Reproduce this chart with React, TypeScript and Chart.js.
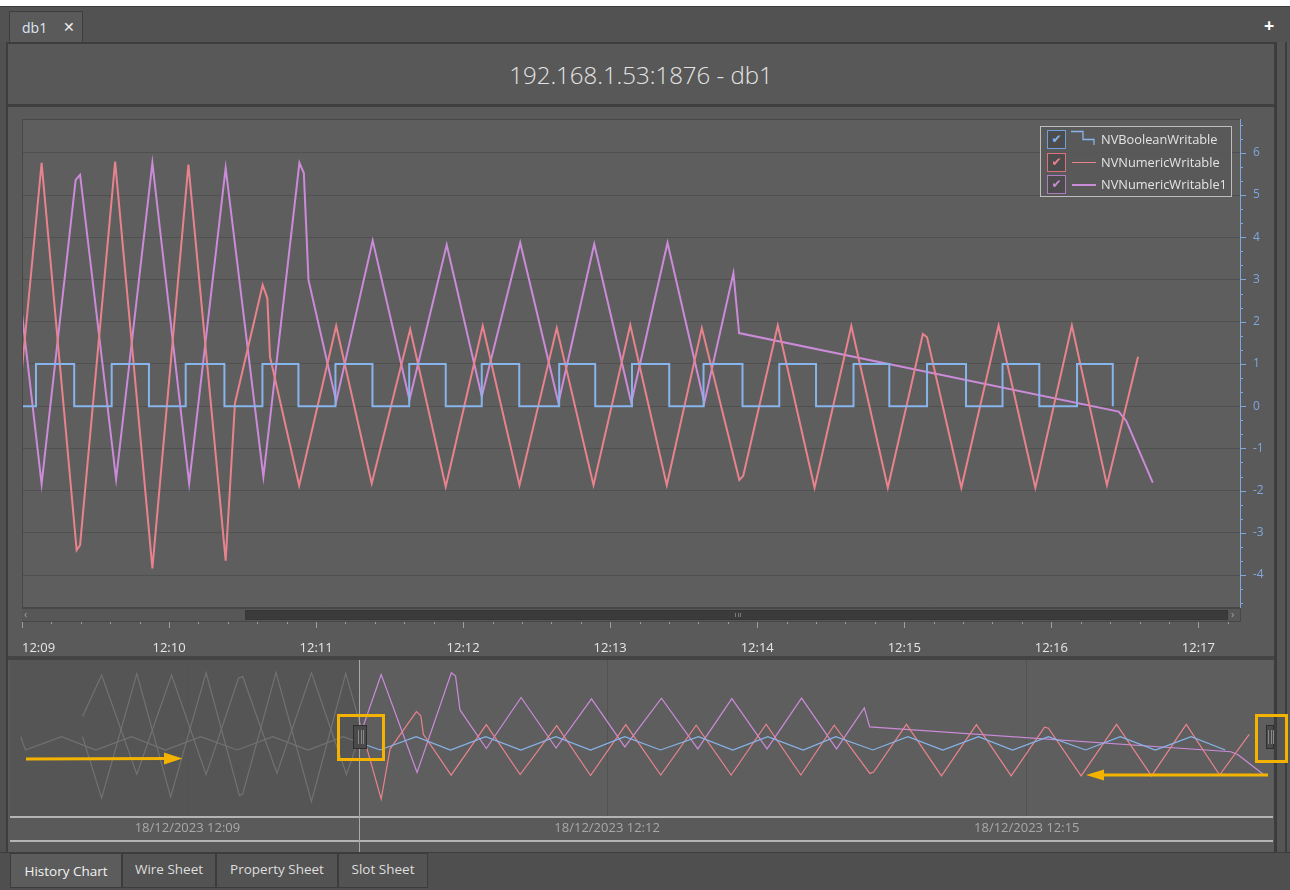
import React, { useEffect, useRef } from "react";
import { Chart, registerables } from "chart.js";
Chart.register(...registerables);

// ---------- data: time in seconds relative to 18/12/2023 12:09:00 ----------
const boolTimes = [-71.5, -69.5, -54, -39.3, -24, -9.4, 5.7, 21.3, 36.6, 51.8, 66.8, 82.6, 98.1, 112.8, 127.9, 143.0, 158.0, 172.9, 187.6, 202.9, 219.2, 233.9, 248.9, 264.1, 278.1, 294.0, 309.0, 324.0, 339.3, 353.9, 369.3, 385.2, 400.1, 415.1, 430.5, 445.1];
const boolValues = [1, 0, 1, 0, 1, 0, 1, 0, 1, 0, 1, 0, 1, 0, 1, 0, 1, 0, 1, 0, 1, 0, 1, 0, 1, 0, 1, 0, 1, 0, 1, 0, 1, 0, 1, 0];

const numTimes = [-45, -36.8, -21.7, -7.2, 8.0, 22.3, 23.7, 38.0, 53.2, 67.9, 83.1, 86.9, 98.2, 100.1, 101.2, 113.1, 128.2, 142.7, 158.4, 172.9, 188.0, 203.0, 218.2, 233.2, 248.2, 263.1, 277.4, 292.7, 294.3, 308.4, 323.4, 338.4, 353.3, 367.6, 369.3, 383.3, 398.5, 413.5, 428.4, 442.7, 455.4];
const numValues = [1.0, -3.6, 5.7, -3.5, 5.76, -3.41, -3.29, 5.79, -3.84, 5.72, -3.66, 0.07, 2.87, 2.56, 1.17, -1.88, 1.9, -1.83, 1.82, -1.91, 1.9, -1.87, 1.85, -1.87, 1.92, -1.87, 1.85, -1.75, -1.65, 1.91, -1.93, 1.9, -1.93, 1.71, 1.63, -1.93, 1.91, -1.93, 1.91, -1.87, 1.17];

const num1Times = [-45, -36.8, -21.7, -6.8, 8.0, 21.9, 23.7, 38.4, 53.2, 68.2, 83.1, 98.5, 113.2, 115.0, 116.9, 128.2, 143.1, 158.1, 173.3, 187.6, 203.3, 218.9, 233.5, 248.6, 263.4, 278.4, 290.3, 292.6, 447.5, 450.6, 461.4];
const num1Values = [2.5, 5.6, -1.8, 5.6, -1.84, 5.36, 5.48, -1.73, 5.76, -1.83, 5.64, -1.67, 5.76, 5.52, 2.99, 0.11, 3.92, 0.15, 3.82, 0.23, 3.87, 0.08, 3.84, 0.08, 3.87, 0.08, 3.15, 1.73, -0.13, -0.35, -1.81];

const seriesNames = ["NVBooleanWritable", "NVNumericWritable", "NVNumericWritable1"];
const minuteLabels = ["12:09", "12:10", "12:11", "12:12", "12:13", "12:14", "12:15", "12:16", "12:17"];
const yLabels = ["-4", "-3", "-2", "-1", "0", "1", "2", "3", "4", "5", "6"];
const navLabels = ["18/12/2023 12:09", "18/12/2023 12:12", "18/12/2023 12:15"];
const navLabelTimes = [0, 180, 360];
const tabLabels = ["History Chart", "Wire Sheet", "Property Sheet", "Slot Sheet"];
const titleText = "192.168.1.53:1876 - db1";

// ---------- styles ----------
const BLUE = "#87b4ea";
const RED = "#e8838d";
const PURPLE = "#cb8bd9";
const AXIS_BLUE = "#7fa7dc";
const PLOT_BG = "#5e5e5e";
const GRID = "#505050";
const UI_FONT = "'Open Sans', 'Noto Sans', 'DejaVu Sans', sans-serif";

const pts = (xs: number[], ys: number[]) => xs.map((x, i) => ({ x, y: ys[i] }));
const isInt = (v: number) => Math.abs(v - Math.round(v)) < 1e-6;
const noPad = (s: any) => { s.paddingLeft = 0; s.paddingRight = 0; s.paddingTop = 0; s.paddingBottom = 0; };

const X_MIN = 0, X_MAX = 497, X_MINOR = 12;
const Y_MIN = -4.78, Y_MAX = 6.8;

const mainDecor = {
  id: "mainDecor",
  beforeDraw(chart: any) {
    const { ctx, chartArea: a } = chart;
    ctx.save();
    ctx.fillStyle = PLOT_BG;
    ctx.fillRect(a.left, a.top, a.right - a.left, a.bottom - a.top);
    ctx.restore();
  },
  afterDraw(chart: any) {
    const { ctx, chartArea: a, scales } = chart;
    ctx.save();
    ctx.strokeStyle = "#474747";
    ctx.lineWidth = 1;
    ctx.beginPath();
    ctx.moveTo(a.left + 0.5, a.bottom);
    ctx.lineTo(a.left + 0.5, a.top + 0.5);
    ctx.lineTo(a.right, a.top + 0.5);
    ctx.stroke();
    ctx.beginPath();
    ctx.moveTo(a.left, a.bottom - 0.5);
    ctx.lineTo(a.right, a.bottom - 0.5);
    ctx.stroke();
    // y tick marks
    const ys = scales.y;
    ctx.strokeStyle = AXIS_BLUE;
    ys.ticks.forEach((t: any) => {
      const py = Math.round(ys.getPixelForValue(t.value)) + 0.5;
      ctx.beginPath();
      ctx.moveTo(a.right, py);
      ctx.lineTo(a.right + (isInt(t.value) ? 6 : 3), py);
      ctx.stroke();
    });
    // x tick marks (below the scrollbar)
    const xs = scales.x;
    const top = a.bottom + 13;
    ctx.strokeStyle = "#9e9e9e";
    xs.ticks.forEach((t: any) => {
      const px = Math.round(xs.getPixelForValue(t.value)) + 0.5;
      const major = Math.round(t.value) % 60 === 0;
      ctx.beginPath();
      ctx.moveTo(px, top);
      ctx.lineTo(px, top + (major ? 7 : 3));
      ctx.stroke();
    });
    ctx.restore();
  },
};

const NAV_DIV = 349; // canvas px of window start
const navDecor = {
  id: "navDecor",
  beforeDraw(chart: any) {
    const { ctx, chartArea: a } = chart;
    ctx.save();
    ctx.fillStyle = PLOT_BG;
    ctx.fillRect(a.left, a.top, a.right - a.left, a.bottom - a.top);
    ctx.fillStyle = "#555555";
    ctx.fillRect(a.left, a.top, NAV_DIV, a.bottom - a.top);
    ctx.restore();
  },
  afterDraw(chart: any) {
    const { ctx, chartArea: a, width } = chart;
    ctx.save();
    ctx.fillStyle = "#b4b4b4";
    ctx.fillRect(0, a.bottom, width, 2);
    ctx.fillRect(0, a.bottom + 24, width, 2);
    ctx.restore();
  },
};

function mainConfig(): any {
  const xTicks: number[] = [];
  for (let v = X_MIN; v <= X_MAX; v += X_MINOR) xTicks.push(v);
  const yTicks: number[] = [];
  const yMinLab = Number(yLabels[0]);
  const yMaxLab = Number(yLabels[yLabels.length - 1]);
  for (let k = yMinLab * 3 - 2; k <= yMaxLab * 3 + 2; k++) yTicks.push(k / 3);
  return {
    type: "line",
    data: {
      datasets: [
        { label: seriesNames[0], data: pts(boolTimes, boolValues), borderColor: BLUE, borderWidth: 2, stepped: true, pointRadius: 0, fill: false },
        { label: seriesNames[1], data: pts(numTimes, numValues), borderColor: RED, borderWidth: 2, pointRadius: 0, fill: false, tension: 0 },
        { label: seriesNames[2], data: pts(num1Times, num1Values), borderColor: PURPLE, borderWidth: 2, pointRadius: 0, fill: false, tension: 0 },
      ],
    },
    options: {
      animation: false,
      responsive: false,
      maintainAspectRatio: false,
      events: [],
      layout: { padding: { left: 12, top: 12, right: 0, bottom: 0 }, autoPadding: false },
      plugins: { legend: { display: false }, tooltip: { enabled: false } },
      scales: {
        x: {
          type: "linear",
          min: X_MIN,
          max: X_MAX,
          afterBuildTicks: (s: any) => { s.ticks = xTicks.map((value) => ({ value })); },
          afterFit: (s: any) => { s.height = 47; noPad(s); },
          grid: { display: false },
          border: { display: false },
          ticks: {
            autoSkip: false,
            maxRotation: 0,
            minRotation: 0,
            align: "inner",
            padding: 24,
            color: "#e6e6e6",
            font: { family: UI_FONT, size: 13 },
            callback: (v: number) => (Math.round(v) % 60 === 0 ? minuteLabels[Math.round(v) / 60] : ""),
          },
        },
        y: {
          type: "linear",
          position: "right",
          min: Y_MIN,
          max: Y_MAX,
          afterBuildTicks: (s: any) => { s.ticks = yTicks.map((value) => ({ value })); },
          afterFit: (s: any) => { s.width = 33; noPad(s); },
          grid: {
            drawTicks: false,
            color: (c: any) => (c.tick && isInt(c.tick.value) ? GRID : "rgba(0,0,0,0)"),
            lineWidth: 1,
          },
          border: { display: true, color: AXIS_BLUE, width: 1 },
          ticks: {
            autoSkip: false,
            padding: 13,
            color: AXIS_BLUE,
            font: { family: UI_FONT, size: 12 },
            callback: (v: number) => (isInt(v) ? yLabels[Math.round(v) - Number(yLabels[0])] : ""),
          },
        },
      },
    },
    plugins: [mainDecor],
  };
}

function navConfig(): any {
  const CW = 1263;
  const colorClip = { left: -NAV_DIV, top: 0, right: 0, bottom: 0 };
  const grayClip = { left: 0, top: 0, right: -(CW - NAV_DIV), bottom: 0 };
  const GRAY = "#727272";
  const mk = (d: any[], color: string, clip: any) => ({ data: d, borderColor: color, borderWidth: 1.2, pointRadius: 0, fill: false, tension: 0, clip });
  return {
    type: "line",
    data: {
      datasets: [
        mk(pts(boolTimes, boolValues), GRAY, grayClip),
        mk(pts(numTimes, numValues), GRAY, grayClip),
        mk(pts(num1Times, num1Values), GRAY, grayClip),
        mk(pts(boolTimes, boolValues), BLUE, colorClip),
        mk(pts(numTimes, numValues), RED, colorClip),
        mk(pts(num1Times, num1Values), PURPLE, colorClip),
      ],
    },
    options: {
      animation: false,
      responsive: false,
      maintainAspectRatio: false,
      events: [],
      layout: { padding: 0, autoPadding: false },
      plugins: { legend: { display: false }, tooltip: { enabled: false } },
      scales: {
        x: {
          type: "linear",
          min: -76.1,
          max: 465.6,
          afterBuildTicks: (s: any) => { s.ticks = navLabelTimes.map((value) => ({ value })); },
          afterFit: (s: any) => { s.height = 36; noPad(s); },
          grid: { drawTicks: false, color: "#535353", lineWidth: 1 },
          border: { display: false },
          ticks: {
            autoSkip: false,
            maxRotation: 0,
            padding: 4,
            color: "#a8a8a8",
            font: { family: UI_FONT, size: 13 },
            callback: (_v: number, i: number) => navLabels[i],
          },
        },
        y: { type: "linear", display: false, min: -4.93, max: 6.72 },
      },
    },
    plugins: [navDecor],
  };
}

const abs = (l: number, t: number, w: number, h: number, extra: any = {}) => ({ position: "absolute" as const, left: l, top: t, width: w, height: h, boxSizing: "border-box" as const, ...extra });

function Legend() {
  const colors = [BLUE, RED, PURPLE];
  const boxColors = ["#6e9fd9", "#d8737e", "#b07cc4"];
  return (
    <div style={abs(1040, 126, 192, 71, { border: "1px solid #bdbdbd", background: "rgba(88,88,88,0.85)" })}>
      {seriesNames.map((name, i) => {
        const top = 3 + i * 22.5;
        return (
          <React.Fragment key={name}>
            <div style={abs(6, top, 19, 19, { border: `1px solid ${boxColors[i]}`, background: "#4c4c4c", color: colors[i], fontSize: 12, lineHeight: "17px", textAlign: "center", fontFamily: "'DejaVu Sans', sans-serif" })}>✔</div>
            {i === 0 ? (
              <svg style={abs(30, top, 26, 19)} width={26} height={19}>
                <polyline points="0,1.5 12,1.5 12,9.5 23,9.5 23,15" fill="none" stroke={colors[0]} strokeWidth={1.3} />
              </svg>
            ) : (
              <div style={abs(31, top + 9, 24, 1.5, { background: colors[i] })} />
            )}
            <div style={abs(60, top, 140, 19, { color: "#e4e4e4", fontSize: 12.8, lineHeight: "19px", fontFamily: UI_FONT, whiteSpace: "nowrap" })}>{name}</div>
          </React.Fragment>
        );
      })}
    </div>
  );
}

function Scrollbar() {
  return (
    <>
      <div style={abs(22, 608, 1219, 14, { background: "#575757", borderTop: "1px solid #474747", borderBottom: "1px solid #474747", borderRight: "1px solid #474747" })} />
      <div style={abs(245, 610, 983, 10, { background: "#3b3b3b", border: "1px solid #363636" })} />
      <div style={abs(24, 607, 10, 14, { color: "#a0a0a0", fontSize: 11, lineHeight: "14px", fontFamily: UI_FONT })}>‹</div>
      <div style={abs(1231, 607, 10, 14, { color: "#a0a0a0", fontSize: 11, lineHeight: "14px", fontFamily: UI_FONT })}>›</div>
      {[0, 1, 2].map((i) => (
        <div key={i} style={abs(735 + i * 2.5, 613, 1, 4, { background: "#7a7a7a" })} />
      ))}
    </>
  );
}

function Handle({ l, w }: { l: number; w: number }) {
  return (
    <div style={abs(l, 725, w, 24, { background: "#4a4a4a", border: "1px solid #2f2f2f" })}>
      {[0, 1, 2].map((i) => (
        <div key={i} style={abs(w / 2 - 3 + i * 2.5, 4, 1, 14, { background: "#888" })} />
      ))}
    </div>
  );
}

export default function App() {
  const mainRef = useRef<HTMLCanvasElement>(null);
  const navRef = useRef<HTMLCanvasElement>(null);

  useEffect(() => {
    const main = new Chart(mainRef.current as HTMLCanvasElement, mainConfig());
    const nav = new Chart(navRef.current as HTMLCanvasElement, navConfig());
    return () => {
      main.destroy();
      nav.destroy();
    };
  }, []);

  const ORANGE = "#f5b301";
  const tabXs = [10, 122, 216, 338, 428];

  return (
    <div style={abs(0, 0, 1290, 890, { background: "#505050", overflow: "hidden", fontFamily: UI_FONT })}>
      {/* top white edge */}
      <div style={abs(0, 0, 1290, 6, { background: "#ffffff" })} />
      {/* tab strip */}
      <div style={abs(0, 6, 1290, 36, { background: "#525252", borderTop: "1px solid #3c3c3c" })} />
      <div style={abs(9, 11, 74, 32, { background: "#5a5a5a", border: "1px solid #3d3d3d", borderBottom: "none" })}>
        <span style={{ position: "absolute", left: 12, top: 6, fontSize: 14, color: "#dde6f2" }}>db1</span>
        <span style={{ position: "absolute", left: 53, top: 5, fontSize: 14, fontWeight: 700, color: "#eeeeee" }}>✕</span>
      </div>
      <div style={abs(1264, 15, 14, 20, { color: "#ffffff", fontSize: 18, fontWeight: 700, lineHeight: "20px" })}>+</div>

      {/* main panel */}
      <div style={abs(6, 42, 1270, 812, { background: "#5a5a5a", border: "2px solid #3d3d3d" })} />
      <div style={abs(8, 44, 1266, 60, { background: "#585858", color: "#e4e4e4", fontSize: 24, lineHeight: "62px", textAlign: "center", fontWeight: 300 })}>
        {titleText}
      </div>
      <div style={abs(8, 104, 1266, 3, { background: "#3f3f3f" })} />
      <div style={abs(8, 107, 1266, 549, { background: "#5a5a5a" })} />
      <canvas ref={mainRef} width={1263} height={548} style={abs(10, 107, 1263, 548)} />
      <Scrollbar />
      <Legend />

      {/* navigator */}
      <div style={abs(8, 656, 1266, 4, { background: "#444444" })} />
      <div style={abs(8, 660, 1266, 192, { background: "#5a5a5a" })} />
      <canvas ref={navRef} width={1263} height={192} style={abs(10, 660, 1263, 192)} />
      <div style={abs(359, 660, 1, 192, { background: "#a8a8a8" })} />
      <Handle l={353} w={14} />
      <Handle l={1266} w={8} />

      {/* right side strip */}
      <div style={abs(1276, 42, 14, 848, { background: "#555555", borderLeft: "1px solid #3a3a3a" })} />
      <div style={abs(1285, 42, 2, 846, { background: "#3d3d3d" })} />

      {/* bottom tabs */}
      <div style={abs(0, 852, 1290, 38, { background: "#4f4f4f", borderTop: "1px solid #3d3d3d" })} />
      {tabLabels.map((t, i) => (
        <div
          key={t}
          style={abs(tabXs[i], 853, tabXs[i + 1] - tabXs[i], 35, {
            background: i === 0 ? "#5c5c5c" : "#535353",
            border: "1px solid #3c3c3c",
            color: i === 0 ? "#f2f2f2" : "#dedede",
            fontSize: 13.5,
            lineHeight: i === 0 ? "35px" : "31px",
            textAlign: "center",
          })}
        >
          {t}
        </div>
      ))}

      {/* orange annotations */}
      <svg style={abs(0, 0, 1290, 890, { pointerEvents: "none" })} width={1290} height={890}>
        <rect x={338.5} y={715.5} width={45} height={44} fill="none" stroke={ORANGE} strokeWidth={3} />
        <rect x={1256.5} y={715.5} width={30} height={46} fill="none" stroke={ORANGE} strokeWidth={3} />
        <line x1={26} y1={759} x2={168} y2={758.5} stroke={ORANGE} strokeWidth={3} />
        <polygon points="164,752.5 182.5,758.5 164,764.5" fill={ORANGE} />
        <line x1={1268} y1={775} x2={1100} y2={775} stroke={ORANGE} strokeWidth={3} />
        <polygon points="1104,769.5 1086,775 1104,780.5" fill={ORANGE} />
      </svg>
    </div>
  );
}
